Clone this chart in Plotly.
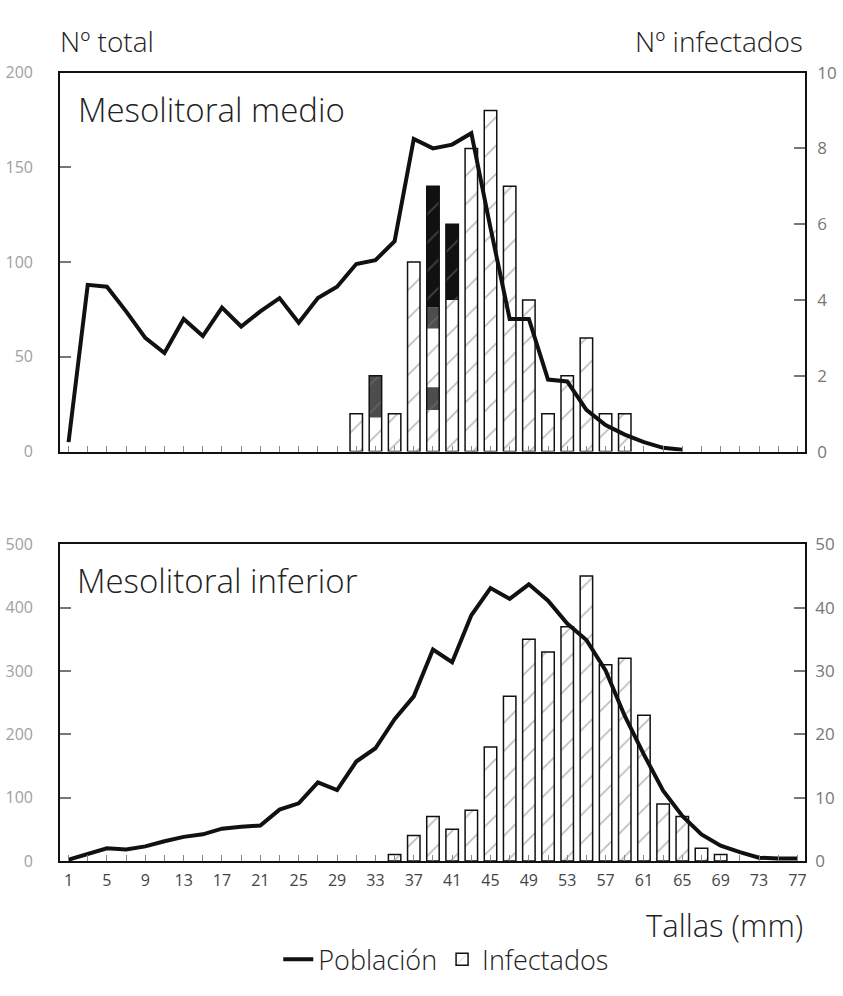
import plotly.graph_objects as go

# ---------------- data ----------------
# Size classes (mm), odd values 1..77
medio_sizes = list(range(1, 67, 2))
medio_total = [5, 88, 87, 74, 60, 52, 70, 61, 76, 66,
               74, 81, 68, 81, 87, 99, 101, 111, 165, 160,
               162, 168, 118, 70, 70, 38, 37, 22, 14, 9,
               5, 2, 1]
medio_inf_sizes = list(range(31, 61, 2))
medio_infected = [1, 2, 1, 5, 7, 6, 8, 9, 7, 4, 1, 2, 3, 1, 1]

# shaded portions inside some bars (size, lower, upper)
medio_gray_sizes = [33, 39, 39]
medio_gray_low = [0.9, 3.25, 1.1]
medio_gray_high = [2.0, 3.8, 1.7]
medio_black_sizes = [39, 41]
medio_black_low = [3.8, 4.0]
medio_black_high = [7.0, 6.0]

inf_sizes = list(range(1, 79, 2))
inf_total = [2, 11, 20, 18, 23, 31, 38, 42, 51, 54,
             56, 81, 91, 124, 112, 157, 178, 224, 260, 334,
             314, 388, 431, 414, 437, 411, 375, 349, 301, 229,
             168, 111, 71, 42, 24, 14, 5, 4, 4]
inf_inf_sizes = list(range(35, 71, 2))
inf_infected = [1, 4, 7, 5, 8, 18, 26, 35, 33, 37, 45, 31, 32, 23, 9, 7, 2, 1]

x_tick_vals = list(range(1, 78, 2))
x_tick_text = [str(v) if (v - 1) % 4 == 0 else "" for v in x_tick_vals]

# ---------------- styling ----------------
W, H = 843, 996
FONT = "Open Sans"
BAR_W = 1.3
X_RANGE = [0.1, 77.8]
hatch = dict(shape="/", fgcolor="#777", bgcolor="rgba(0,0,0,0)", size=20, solidity=0.08)


def px_x(p):
    return p / W


def px_y(p):
    return 1 - p / H


fig = go.Figure()

# ---- Mesolitoral medio ----
fig.add_trace(go.Bar(
    x=medio_gray_sizes, y=[h - l for l, h in zip(medio_gray_low, medio_gray_high)],
    base=medio_gray_low, width=BAR_W, marker=dict(color="#4d4d4d", line=dict(width=0)),
    xaxis="x", yaxis="y", showlegend=False, hoverinfo="skip"))
fig.add_trace(go.Bar(
    x=medio_black_sizes, y=[h - l for l, h in zip(medio_black_low, medio_black_high)],
    base=medio_black_low, width=BAR_W, marker=dict(color="#111111", line=dict(width=0)),
    xaxis="x", yaxis="y", showlegend=False, hoverinfo="skip"))
fig.add_trace(go.Bar(
    x=medio_inf_sizes, y=medio_infected, width=BAR_W, name="Infectados",
    marker=dict(color="rgba(255,255,255,0)", line=dict(color="#111", width=1.5), pattern=hatch),
    xaxis="x", yaxis="y", showlegend=True, legendrank=2))
fig.add_trace(go.Scatter(
    x=medio_sizes, y=medio_total, mode="lines", name="Población",
    line=dict(color="#111", width=4), xaxis="x", yaxis="y2",
    showlegend=True, legendrank=1))

# ---- Mesolitoral inferior ----
fig.add_trace(go.Bar(
    x=inf_inf_sizes, y=inf_infected, width=BAR_W, name="Infectados",
    marker=dict(color="rgba(255,255,255,0)", line=dict(color="#111", width=1.5), pattern=hatch),
    xaxis="x2", yaxis="y3", showlegend=False))
fig.add_trace(go.Scatter(
    x=inf_sizes, y=inf_total, mode="lines", name="Población",
    line=dict(color="#111", width=4), xaxis="x2", yaxis="y4", showlegend=False))

common_x = dict(showgrid=False, zeroline=False, showline=True, linecolor="#111",
                linewidth=1.5, mirror=True, ticks="inside", ticklen=6, tickcolor="#888",
                tickvals=x_tick_vals, range=X_RANGE,
                tickfont=dict(family=FONT, size=16, color="#444"))
common_y = dict(showgrid=False, zeroline=False, showline=True, linecolor="#111",
                linewidth=1.5, ticks="inside", ticklen=11, tickcolor="#777", tickwidth=1.5)
right_font = dict(family=FONT, size=17, color="#777")
left_font = dict(family=FONT, size=16, color="#a0a0a0")

top_dom = [px_y(450), px_y(62)]
bot_dom = [px_y(869), px_y(545)]
x_dom = [px_x(60), px_x(806)]

fig.update_layout(
    width=W, height=H,
    margin=dict(l=0, r=0, t=0, b=0),
    paper_bgcolor="white", plot_bgcolor="white",
    barmode="overlay",
    font=dict(family=FONT, color="#222"),
    xaxis=dict(common_x, domain=x_dom, anchor="y", ticktext=[""] * len(x_tick_vals)),
    yaxis=dict(common_y, domain=top_dom, anchor="x", side="right", range=[0, 10],
               tickvals=[0, 2, 4, 6, 8, 10], ticklabelstandoff=7, tickfont=right_font),
    yaxis2=dict(common_y, overlaying="y", anchor="x", side="left", range=[0, 200],
                tickvals=[0, 50, 100, 150, 200], ticklabelstandoff=22, tickfont=left_font),
    xaxis2=dict(common_x, domain=x_dom, anchor="y3", ticktext=x_tick_text, ticklabelstandoff=4),
    yaxis3=dict(common_y, domain=bot_dom, anchor="x2", side="right", range=[0, 50],
                tickvals=[0, 10, 20, 30, 40, 50], ticklabelstandoff=5, tickfont=right_font),
    yaxis4=dict(common_y, overlaying="y3", anchor="x2", side="left", range=[0, 500],
                tickvals=[0, 100, 200, 300, 400, 500], ticklabelstandoff=22, tickfont=left_font),
    legend=dict(orientation="h", x=0.53, xanchor="center", y=px_y(970), yanchor="middle",
                font=dict(family=FONT, size=27, color="#222", weight=300), itemwidth=30,
                bgcolor="rgba(0,0,0,0)", traceorder="normal"),
    showlegend=True,
)

annotations = [
    dict(text="Nº total", x=px_x(58), y=px_y(30), xanchor="left", size=28),
    dict(text="Nº infectados", x=px_x(806), y=px_y(30), xanchor="right", size=28),
    dict(text="Mesolitoral medio", x=px_x(76), y=px_y(100), xanchor="left", size=33),
    dict(text="Mesolitoral inferior", x=px_x(75), y=px_y(582), xanchor="left", size=33),
    dict(text="Tallas (mm)", x=px_x(806), y=px_y(935), xanchor="right", size=31),
]
for a in annotations:
    fig.add_annotation(text=a["text"], x=a["x"], y=a["y"], xref="paper", yref="paper",
                       xanchor=a["xanchor"], yanchor="middle", showarrow=False,
                       font=dict(family=FONT, size=a["size"], color="#222", weight=300))

fig.write_html("out.html")
